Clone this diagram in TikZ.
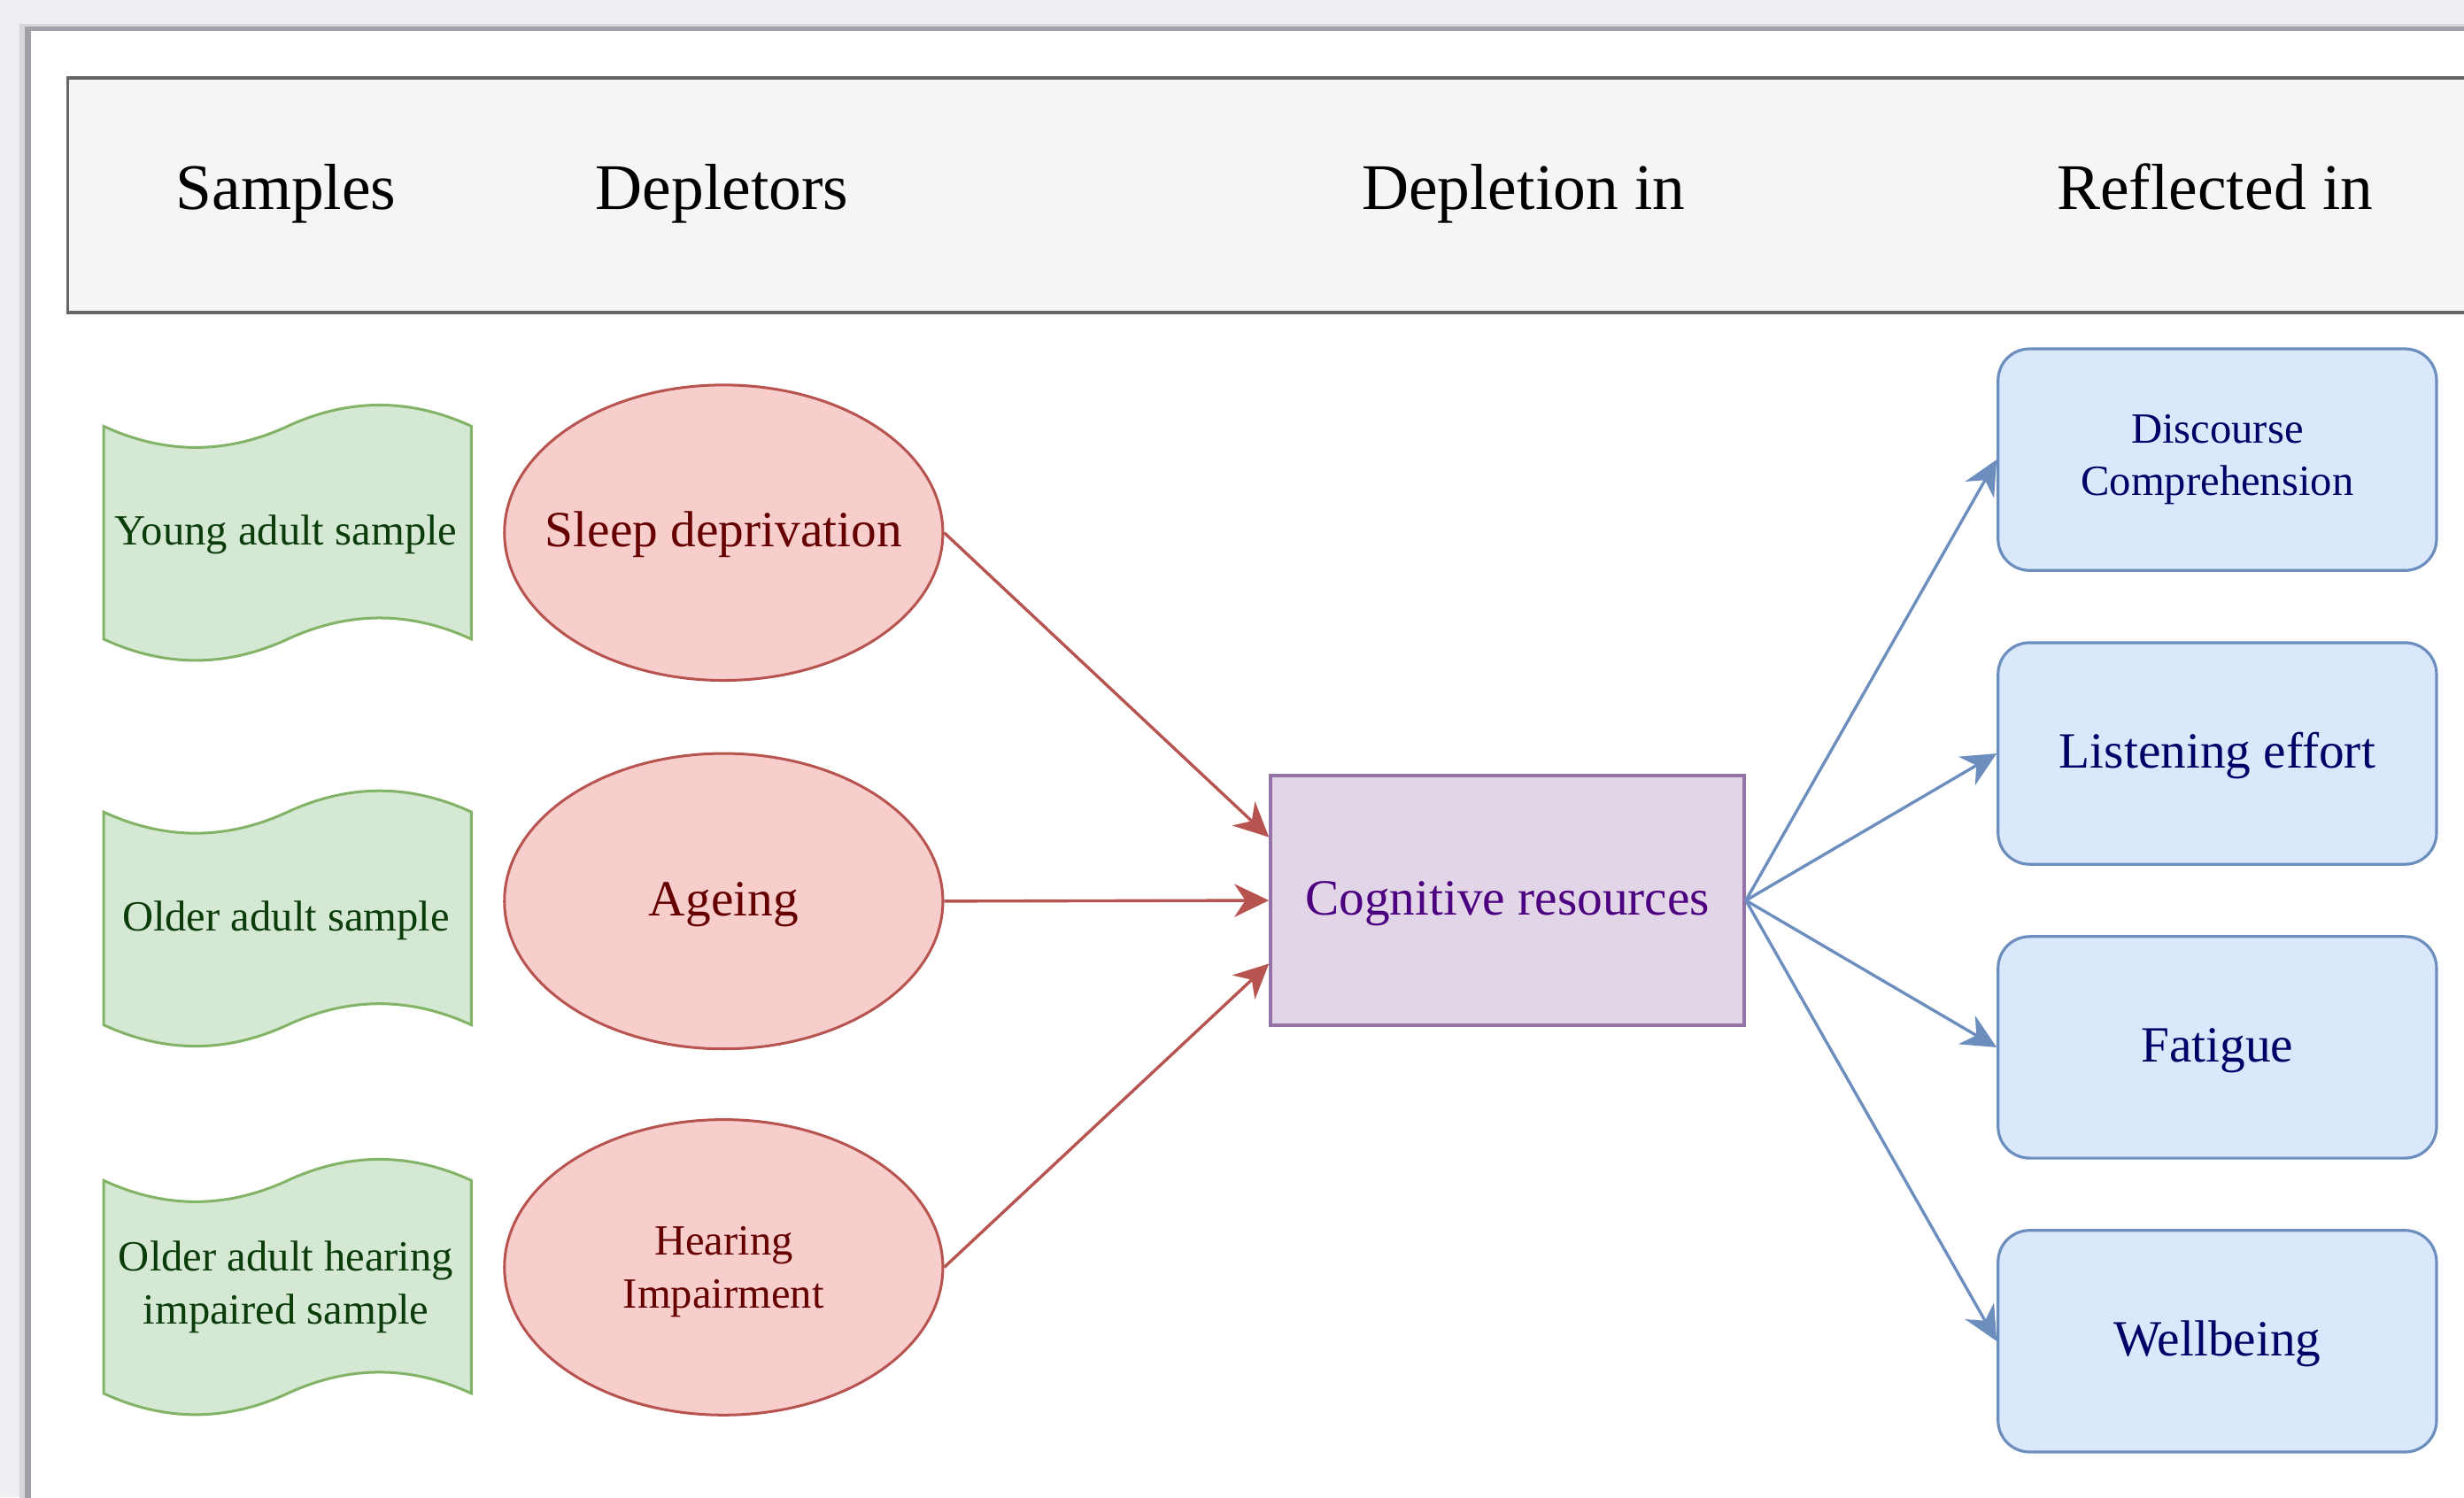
\documentclass[tikz,border=0pt]{standalone}
\usepackage{fontspec}
\setmainfont{Liberation Serif}
\usetikzlibrary{shapes.geometric,arrows.meta,calc}
\definecolor{bgc}{RGB}{239,238,243}
\definecolor{shlight}{RGB}{214,214,220}
\definecolor{shdark}{RGB}{160,160,166}
\definecolor{hdrfill}{HTML}{F5F5F5}
\definecolor{hdrline}{HTML}{666666}
\definecolor{tapefill}{HTML}{D5E8D4}
\definecolor{tapeline}{HTML}{82B366}
\definecolor{tapetxt}{HTML}{0A3D0A}
\definecolor{ellfill}{HTML}{F8CECC}
\definecolor{ellline}{HTML}{B85450}
\definecolor{elltxt}{HTML}{660000}
\definecolor{cogfill}{HTML}{E1D5E7}
\definecolor{cogline}{HTML}{9673A6}
\definecolor{cogtxt}{HTML}{4C0080}
\definecolor{bluefill}{HTML}{DAE8FC}
\definecolor{blueline}{HTML}{6C8EBF}
\definecolor{bluetxt}{HTML}{000066}
\tikzset{
  hdrtext/.style={anchor=base, inner sep=0pt, font=\fontsize{20.7}{24.8}\selectfont},
  bigsingle/.style={font=\fontsize{16.15}{19.4}\selectfont, text height=12.3pt, text depth=3.2pt},
  smallfont/.style={font=\fontsize{13.7}{16.8}\selectfont, align=center},
  smallsingle/.style={font=\fontsize{13.7}{16.8}\selectfont, text height=10.4pt, text depth=2.75pt},
  tapest/.style={draw=tapeline, fill=tapefill, line width=0.85pt},
  tapetext/.style={inner sep=0pt, text=tapetxt},
  ellst/.style={ellipse, draw=ellline, fill=ellfill, line width=0.85pt, inner sep=0pt,
                minimum width=139.5pt, minimum height=94pt},
  elltext/.style={inner sep=0pt, text=elltxt},
  cogst/.style={rectangle, draw=cogline, fill=cogfill, line width=1pt, inner sep=0pt,
                minimum width=150.75pt, minimum height=79.5pt, text=cogtxt},
  bluest/.style={rectangle, rounded corners=10pt, draw=blueline, fill=bluefill, line width=0.9pt,
                 inner sep=0pt, minimum width=139.5pt, minimum height=70.5pt, text=bluetxt},
  redarr/.style={draw=ellline, line width=0.95pt, -{Stealth[length=11pt, width=10.5pt, inset=3.5pt]}},
  bluearr/.style={draw=blueline, line width=0.95pt, -{Stealth[length=11pt, width=10.5pt, inset=3.5pt]}},
}
\newcommand\tapeat[1]{\draw[tapest, shift={(#1)}] (-117,-67.75) .. controls (-78,-49.75) and (-39,-49.75) .. (0,-67.75) .. controls (39,-85.75) and (78,-85.75) .. (117,-67.75) -- (117,67.75) .. controls (78,49.75) and (39,49.75) .. (0,67.75) .. controls (-39,85.75) and (-78,85.75) .. (-117,67.75) -- cycle;}
\begin{document}
\begin{tikzpicture}[x=0.5pt, y=-0.5pt]
\clip (0,0) rectangle (1568,953);
% canvas and page
\fill[bgc] (0,0) rectangle (1568,953);
\fill[shlight] (12.5,15) rectangle (1600,1000);
\fill[shdark] (15.5,17) rectangle (1600,1000);
\fill[white] (19.5,19.5) rectangle (1600,1000);
% header band
\draw[draw=hdrline, fill=hdrfill, line width=1pt] (43,49.5) rectangle (1620,199);
\node[hdrtext] (hsamples) at (182,133) {Samples};
\node[hdrtext] (hdepletors) at (459.5,133) {Depletors};
\node[hdrtext] (hdepletion) at (969.5,133) {Depletion in};
\node[hdrtext] (hreflected) at (1409.5,133) {Reflected in};
% samples (tape shapes)
\tapeat{183,339}
\tapeat{183,584.5}
\tapeat{183,819}
\node[tapetext, smallsingle] (young) at (182,339) {Young adult sample};
\node[tapetext, smallsingle] (older) at (182,584.5) {Older adult sample};
\node[tapetext, smallfont] (olderhi) at (182,819) {Older adult hearing\\impaired sample};
% depletors
\node[ellst] (sd) at (460.5,339) {};
\node[ellst] (ag) at (460.5,573.5) {};
\node[ellst] (hi) at (460.5,806.5) {};
\node[elltext, bigsingle] (sdt) at (sd.center) {Sleep deprivation};
\node[elltext, bigsingle] (agt) at (ag.center) {Ageing};
\node[elltext, smallfont] (hit) at (460.5,809.5) {Hearing\\Impairment};
% cognitive resources
\node[cogst, bigsingle] (cog) at (959.25,573) {Cognitive resources};
% reflected in
\node[bluest, smallfont] (dc) at (1411,292.5) {Discourse\\Comprehension};
\node[bluest, bigsingle] (le) at (1411,479.5) {Listening effort};
\node[bluest, bigsingle] (fa) at (1411,666.5) {Fatigue};
\node[bluest, bigsingle] (wb) at (1411,853.5) {Wellbeing};
% connectors
\draw[redarr] (sd.east) -- ($(cog.north west)!0.25!(cog.south west)$);
\draw[redarr] (ag.east) -- (cog.west);
\draw[redarr] (hi.east) -- ($(cog.north west)!0.75!(cog.south west)$);
\draw[bluearr] (cog.east) -- (dc.west);
\draw[bluearr] (cog.east) -- (le.west);
\draw[bluearr] (cog.east) -- (fa.west);
\draw[bluearr] (cog.east) -- (wb.west);
\end{tikzpicture}
\end{document}
